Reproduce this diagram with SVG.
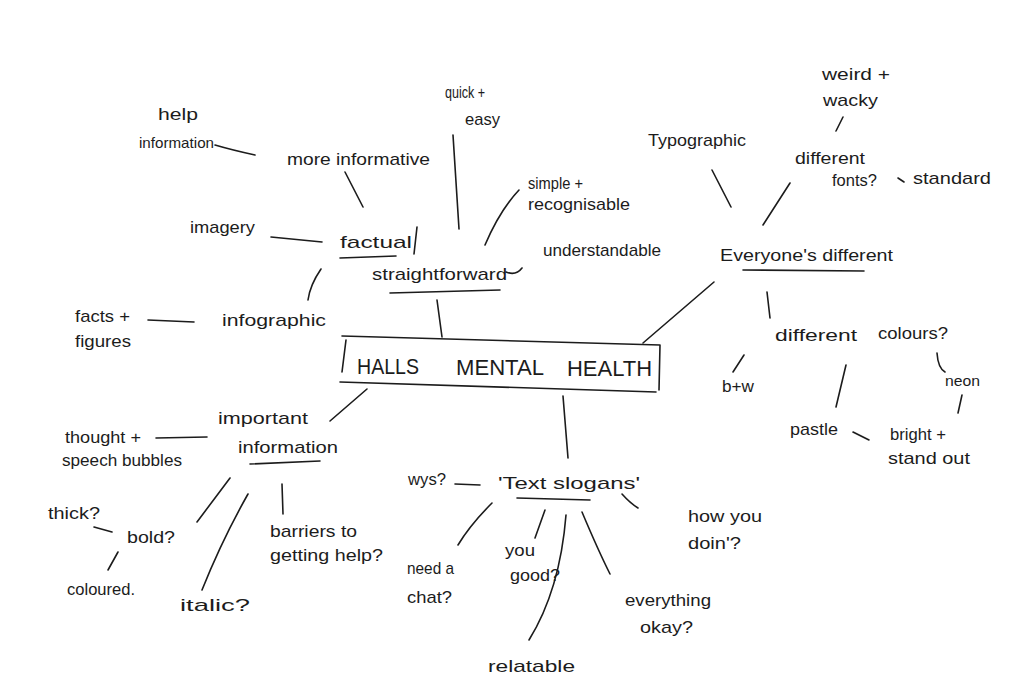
<svg xmlns="http://www.w3.org/2000/svg" width="1023" height="700" viewBox="0 0 1023 700">
<style>
text{font-family:"Liberation Sans","DejaVu Sans",sans-serif;font-size:17px;fill:#1c1c1c}
.s{font-size:15px}
.b{font-size:22px}
path,line{stroke:#1c1c1c;stroke-width:1.6;fill:none;stroke-linecap:round}
</style>
<rect width="1023" height="700" fill="#ffffff"/>
<g id="connectors">
<path d="M215 145 Q232 150 255 155"/>
<path d="M345 172 L363 207"/>
<path d="M453 135 L459 229"/>
<path d="M519 190 Q500 210 485 245"/>
<path d="M271 237 L322 242"/>
<path d="M321 269 Q310 285 308 300"/>
<path d="M148 320 L194 322"/>
<path d="M437 300 L442 337"/>
<path d="M643 343 L714 282"/>
<path d="M712 170 L731 207"/>
<path d="M843 117 L836 131"/>
<path d="M790 183 L763 225"/>
<path d="M767 292 L770 318"/>
<path d="M744 355 L733 372"/>
<path d="M846 365 L836 407"/>
<path d="M853 432 L869 440"/>
<path d="M937 353 Q938 368 945 372"/>
<path d="M962 395 L958 413"/>
<path d="M367 389 Q345 408 330 421"/>
<path d="M156 438 L207 437"/>
<path d="M230 478 L197 522"/>
<path d="M248 494 Q222 540 202 590"/>
<path d="M282 484 L283 514"/>
<path d="M94 527 L112 532"/>
<path d="M118 552 L108 570"/>
<path d="M563 396 L568 458"/>
<path d="M455 484 L480 485"/>
<path d="M492 503 Q470 525 458 545"/>
<path d="M545 510 L535 538"/>
<path d="M566 515 Q560 590 529 640"/>
<path d="M582 512 Q598 550 610 574"/>
<path d="M622 494 Q630 503 638 508"/>
<path d="M898 178 L904 182"/>
<path d="M506 272 Q516 276 522 268"/>
</g>
<g id="n-help"><text x="158" y="120" textLength="40" lengthAdjust="spacingAndGlyphs">help</text><text x="139" y="148" class="s" textLength="75" lengthAdjust="spacingAndGlyphs">information</text></g>
<g id="n-more-informative"><text x="287" y="165" textLength="143" lengthAdjust="spacingAndGlyphs">more informative</text></g>
<g id="n-quick"><text x="445" y="98" textLength="40" lengthAdjust="spacingAndGlyphs">quick +</text><text x="465" y="125" textLength="35" lengthAdjust="spacingAndGlyphs">easy</text></g>
<g id="n-simple"><text x="528" y="189" textLength="55" lengthAdjust="spacingAndGlyphs">simple +</text><text x="528" y="210" textLength="102" lengthAdjust="spacingAndGlyphs">recognisable</text></g>
<g id="n-imagery"><text x="190" y="233" textLength="65" lengthAdjust="spacingAndGlyphs">imagery</text></g>
<g id="n-factual"><text x="340" y="248" textLength="72" lengthAdjust="spacingAndGlyphs">factual</text><line x1="417" y1="227" x2="414" y2="254"/><line x1="340" y1="258" x2="396" y2="256"/><text x="372" y="280" textLength="135" lengthAdjust="spacingAndGlyphs">straightforward</text><line x1="390" y1="293" x2="500" y2="290"/></g>
<g id="n-understandable"><text x="543" y="256" textLength="118" lengthAdjust="spacingAndGlyphs">understandable</text></g>
<g id="n-infographic"><text x="222" y="326" textLength="104" lengthAdjust="spacingAndGlyphs">infographic</text></g>
<g id="n-facts"><text x="75" y="322" textLength="55" lengthAdjust="spacingAndGlyphs">facts +</text><text x="75" y="347" textLength="56" lengthAdjust="spacingAndGlyphs">figures</text></g>
<g id="n-halls"><path d="M342 336 L660 345 M346 340 L342 372 M340 382 L656 392 M660 345 L659 390"/><text x="357" y="374" class="b" textLength="62" lengthAdjust="spacingAndGlyphs">HALLS</text><text x="456" y="375" class="b" textLength="88" lengthAdjust="spacingAndGlyphs">MENTAL</text><text x="567" y="376" class="b" textLength="85" lengthAdjust="spacingAndGlyphs">HEALTH</text></g>
<g id="n-typographic"><text x="648" y="146" textLength="98" lengthAdjust="spacingAndGlyphs">Typographic</text></g>
<g id="n-weird"><text x="822" y="80" textLength="68" lengthAdjust="spacingAndGlyphs">weird +</text><text x="823" y="106" textLength="55" lengthAdjust="spacingAndGlyphs">wacky</text></g>
<g id="n-fonts"><text x="795" y="164" textLength="70" lengthAdjust="spacingAndGlyphs">different</text><text x="832" y="186" textLength="45" lengthAdjust="spacingAndGlyphs">fonts?</text></g>
<g id="n-standard"><text x="913" y="184" textLength="78" lengthAdjust="spacingAndGlyphs">standard</text></g>
<g id="n-everyone"><text x="720" y="261" textLength="173" lengthAdjust="spacingAndGlyphs">Everyone's different</text><line x1="743" y1="270" x2="864" y2="271"/></g>
<g id="n-colours"><text x="775" y="341" textLength="82" lengthAdjust="spacingAndGlyphs">different</text><text x="878" y="339" textLength="70" lengthAdjust="spacingAndGlyphs">colours?</text></g>
<g id="n-bw"><text x="722" y="392" textLength="32" lengthAdjust="spacingAndGlyphs">b+w</text></g>
<g id="n-neon"><text x="945" y="386" class="s" textLength="35" lengthAdjust="spacingAndGlyphs">neon</text></g>
<g id="n-pastle"><text x="790" y="435" textLength="48" lengthAdjust="spacingAndGlyphs">pastle</text></g>
<g id="n-bright"><text x="890" y="440" textLength="56" lengthAdjust="spacingAndGlyphs">bright +</text><text x="888" y="464" textLength="82" lengthAdjust="spacingAndGlyphs">stand out</text></g>
<g id="n-important"><text x="218" y="424" textLength="90" lengthAdjust="spacingAndGlyphs">important</text><text x="238" y="453" textLength="100" lengthAdjust="spacingAndGlyphs">information</text><line x1="250" y1="464" x2="320" y2="461"/></g>
<g id="n-thought"><text x="65" y="443" textLength="76" lengthAdjust="spacingAndGlyphs">thought +</text><text x="62" y="466" textLength="120" lengthAdjust="spacingAndGlyphs">speech bubbles</text></g>
<g id="n-thick"><text x="48" y="519" textLength="52" lengthAdjust="spacingAndGlyphs">thick?</text></g>
<g id="n-bold"><text x="127" y="543" textLength="48" lengthAdjust="spacingAndGlyphs">bold?</text></g>
<g id="n-coloured"><text x="67" y="595" textLength="68" lengthAdjust="spacingAndGlyphs">coloured.</text></g>
<g id="n-italic"><text x="180" y="611" textLength="70" lengthAdjust="spacingAndGlyphs">italic?</text></g>
<g id="n-barriers"><text x="270" y="537" textLength="87" lengthAdjust="spacingAndGlyphs">barriers to</text><text x="270" y="561" textLength="113" lengthAdjust="spacingAndGlyphs">getting help?</text></g>
<g id="n-wys"><text x="408" y="485" textLength="38" lengthAdjust="spacingAndGlyphs">wys?</text></g>
<g id="n-slogans"><text x="498" y="489" textLength="142" lengthAdjust="spacingAndGlyphs">'Text slogans'</text><line x1="517" y1="498" x2="590" y2="500"/></g>
<g id="n-needchat"><text x="407" y="574" textLength="47" lengthAdjust="spacingAndGlyphs">need a</text><text x="407" y="603" textLength="45" lengthAdjust="spacingAndGlyphs">chat?</text></g>
<g id="n-yougood"><text x="505" y="556" textLength="30" lengthAdjust="spacingAndGlyphs">you</text><text x="510" y="581" textLength="50" lengthAdjust="spacingAndGlyphs">good?</text></g>
<g id="n-relatable"><text x="488" y="672" textLength="87" lengthAdjust="spacingAndGlyphs">relatable</text></g>
<g id="n-everything"><text x="625" y="606" textLength="86" lengthAdjust="spacingAndGlyphs">everything</text><text x="640" y="633" textLength="53" lengthAdjust="spacingAndGlyphs">okay?</text></g>
<g id="n-howyou"><text x="688" y="522" textLength="74" lengthAdjust="spacingAndGlyphs">how you</text><text x="688" y="549" textLength="53" lengthAdjust="spacingAndGlyphs">doin'?</text></g>
</svg>
